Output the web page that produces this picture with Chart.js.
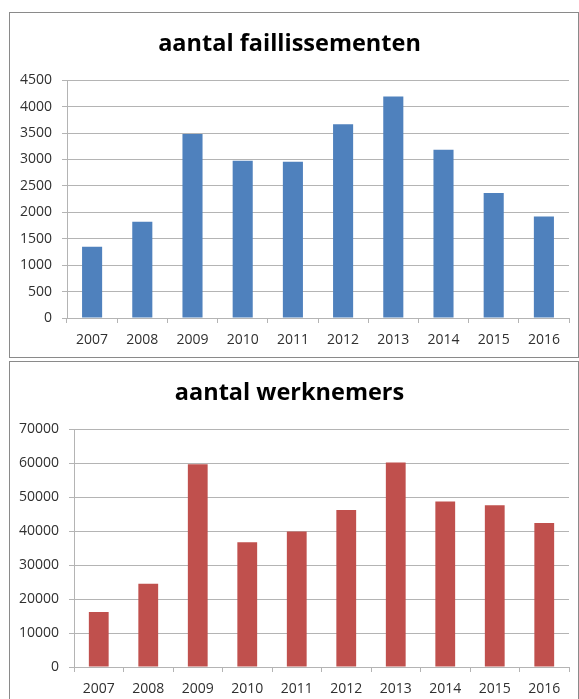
<!DOCTYPE html>
<html>
<head>
<meta charset="utf-8">
<script src="https://cdn.jsdelivr.net/npm/chart.js@4"></script>
<style>
  body { margin: 0; background: #fff; width: 579px; height: 699px; overflow: hidden; position: relative; }
  .box { position: absolute; left: 9px; width: 570px; height: 346px; border: 1px solid #8a8a8a; box-sizing: border-box; background: #fff; }
  #box1 { top: 12px; }
  #box2 { top: 361px; }
  .box canvas { display: block; }
</style>
</head>
<body>
<div class="box" id="box1"><canvas id="chart1" width="568" height="344"></canvas></div>
<div class="box" id="box2"><canvas id="chart2" width="568" height="344"></canvas></div>
<script>
const years = ["2007", "2008", "2009", "2010", "2011", "2012", "2013", "2014", "2015", "2016"];
const faillissementen = [1350, 1820, 3480, 2975, 2955, 3665, 4190, 3185, 2365, 1920];
const werknemers = [16200, 24500, 59700, 36700, 39900, 46200, 60200, 48700, 47600, 42400];
const faillTicks = [0, 500, 1000, 1500, 2000, 2500, 3000, 3500, 4000, 4500];
const werkTicks = [0, 10000, 20000, 30000, 40000, 50000, 60000, 70000];

const gridGray = "#b4b4b4";
const textGray = "#303030";

function makeChart(id, title, values, ticks, color, axisWidth) {
    const step = ticks[1] - ticks[0];
    return new Chart(document.getElementById(id), {
        type: "bar",
        data: {
            labels: years,
            datasets: [{
                label: title,
                data: values,
                backgroundColor: color,
                barPercentage: 0.4,
                categoryPercentage: 1
            }]
        },
        options: {
            responsive: false,
            animation: false,
            layout: { padding: { left: 0, right: 9, top: 0, bottom: 0 } },
            plugins: {
                legend: { display: false },
                tooltip: { enabled: false },
                title: {
                    display: true,
                    text: title,
                    color: "#000",
                    font: { family: "Open Sans", size: 23.5, weight: "bold", lineHeight: 1.2 },
                    padding: { top: 17, bottom: 22 }
                }
            },
            scales: {
                x: {
                    grid: { drawOnChartArea: false, offset: true, tickLength: 5, color: gridGray },
                    border: { color: gridGray },
                    ticks: { color: textGray, font: { family: "Open Sans", size: 14 }, padding: 9, maxRotation: 0 },
                    afterFit: (axis) => { axis.height = 39; }
                },
                y: {
                    min: ticks[0],
                    max: ticks[ticks.length - 1],
                    grid: { tickLength: 5, color: gridGray },
                    border: { color: gridGray },
                    ticks: {
                        stepSize: step,
                        color: textGray,
                        font: { family: "Open Sans", size: 14 },
                        padding: 10,
                        callback: (v) => String(v)
                    },
                    afterFit: (axis) => { axis.width = axisWidth; }
                }
            }
        }
    });
}

makeChart("chart1", "aantal faillissementen", faillissementen, faillTicks, "#4f81bd", 57);
makeChart("chart2", "aantal werknemers", werknemers, werkTicks, "#c0504d", 64);
</script>
</body>
</html>
